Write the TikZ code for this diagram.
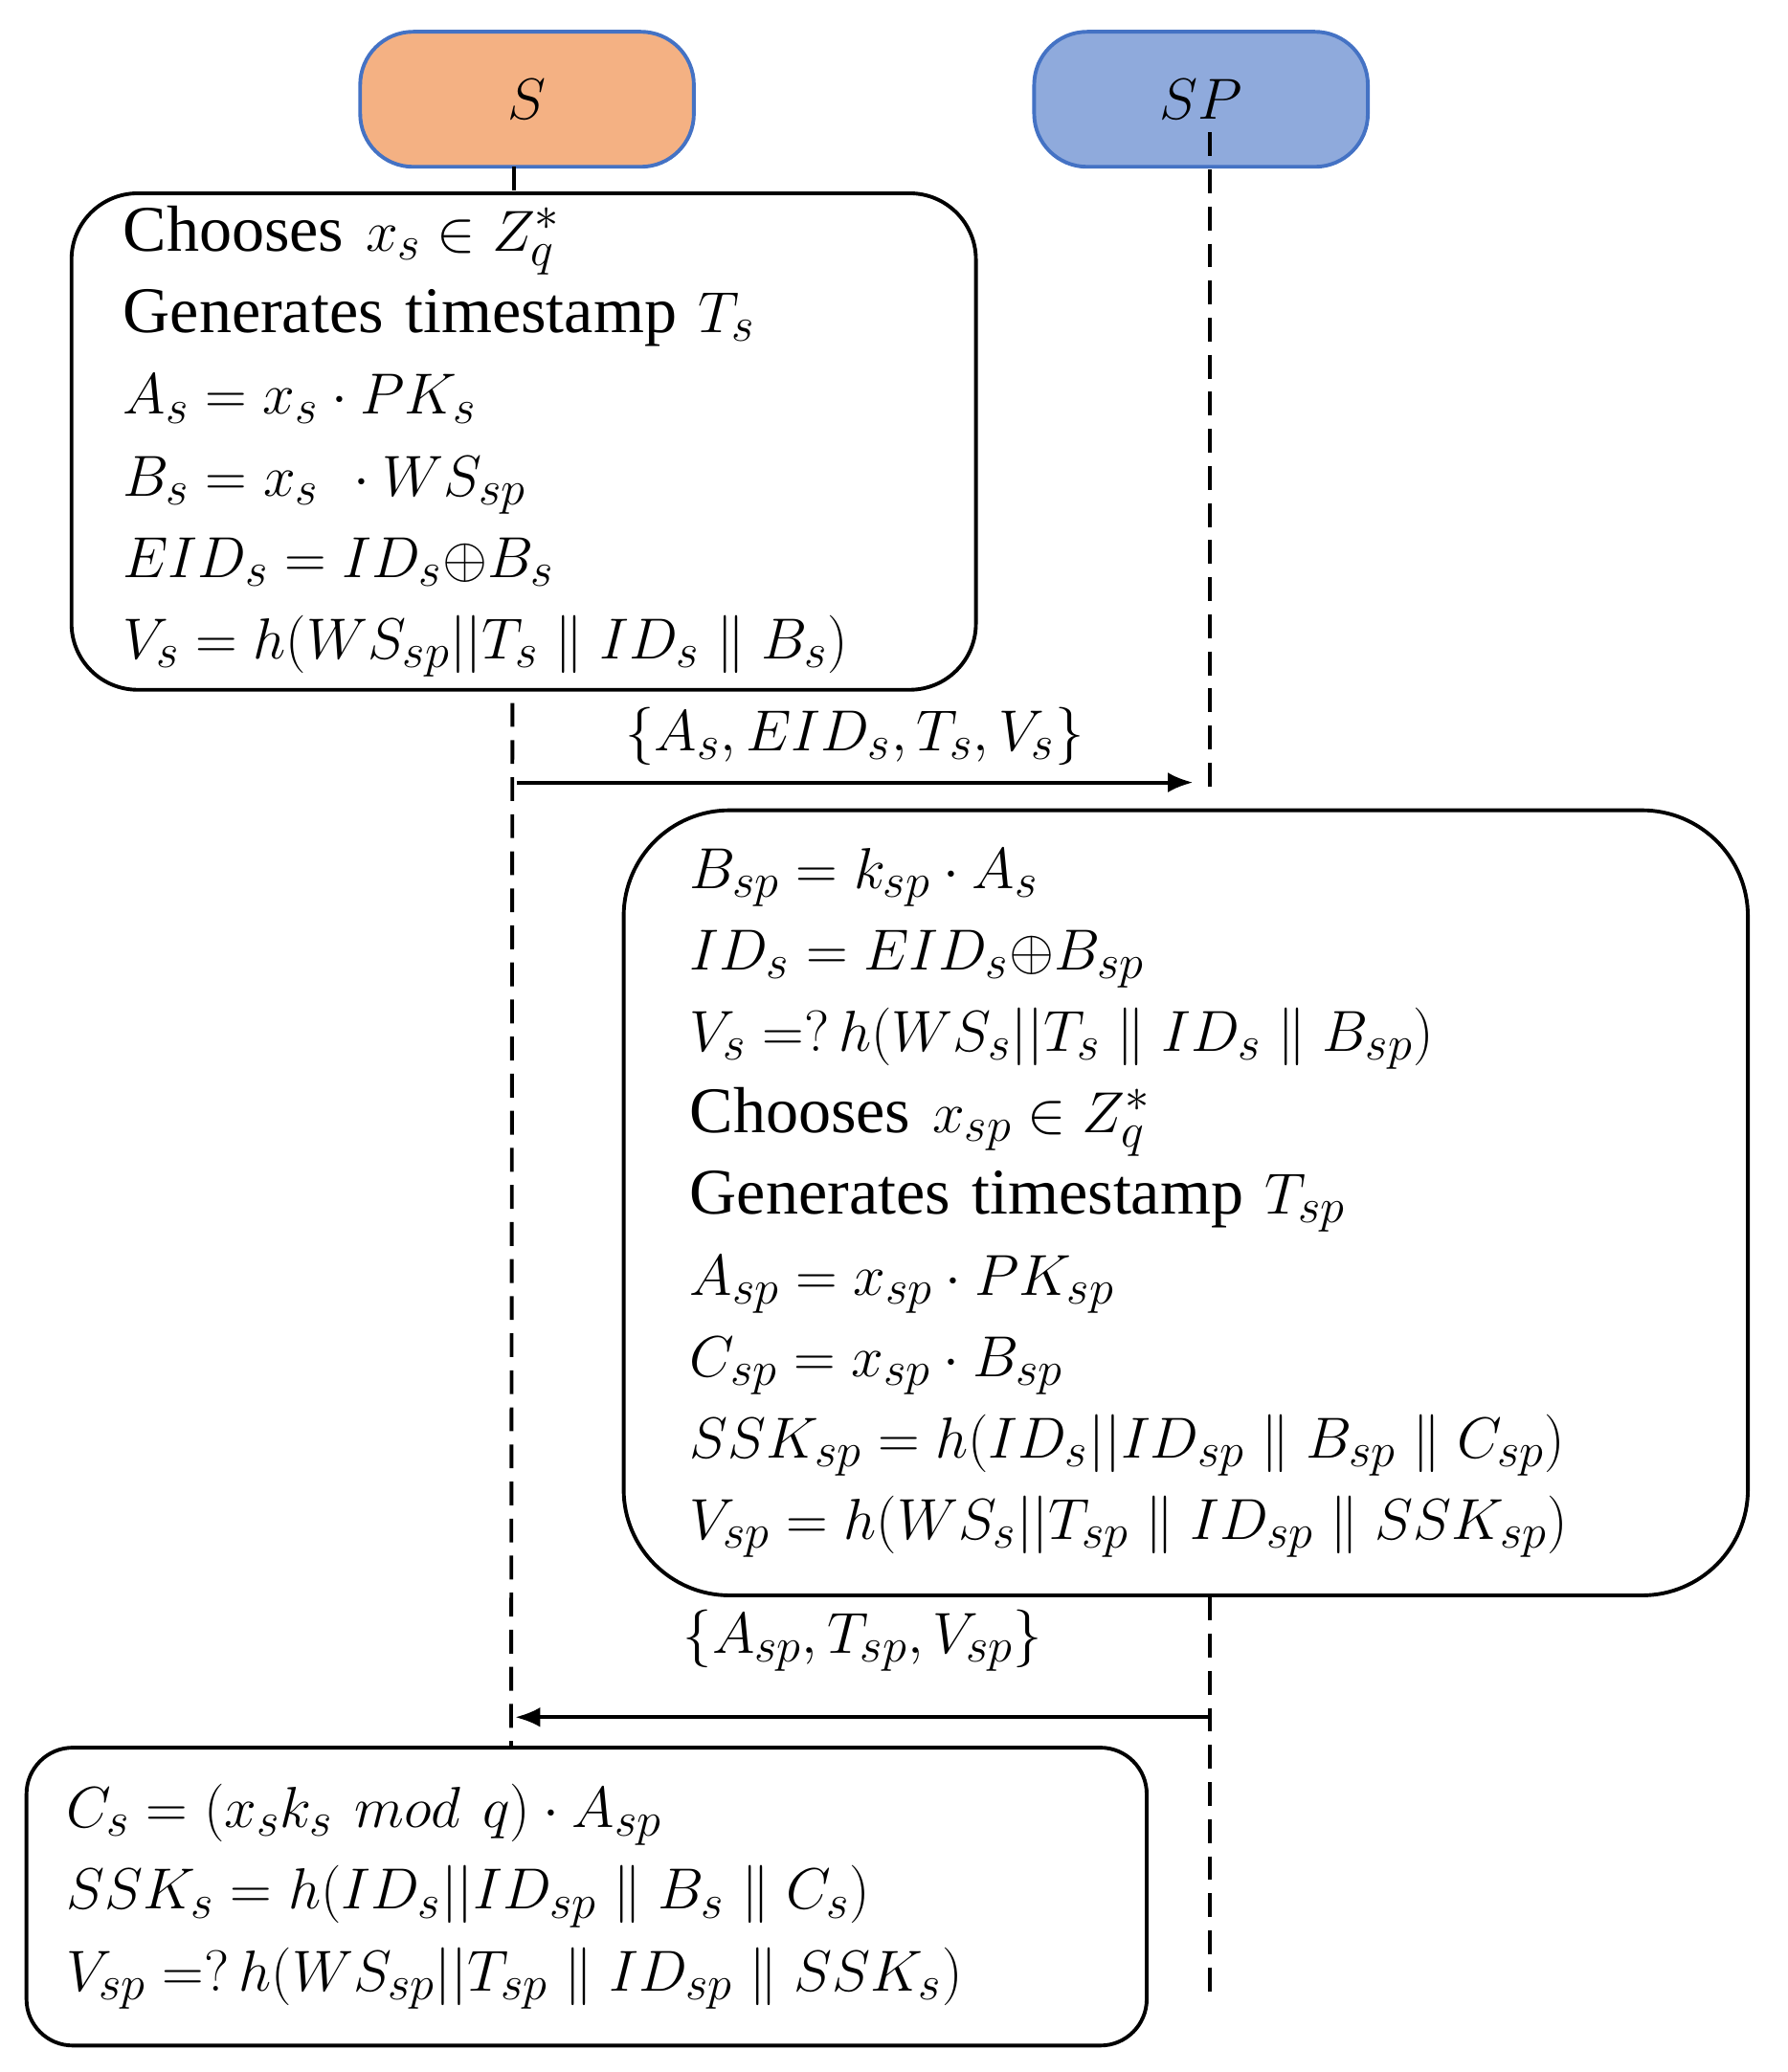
\documentclass[tikz,border=0pt]{standalone}
\usepackage{fontspec}
\setmainfont{Liberation Serif}
\usetikzlibrary{arrows.meta}

\definecolor{sorange}{HTML}{F4B183}
\definecolor{spblue}{HTML}{8FAADC}
\definecolor{edgeblue}{HTML}{4472C4}

\tikzset{
  party/.style={draw=edgeblue, line width=1.6pt, rounded corners=0.8cm,
    minimum width=5.04cm, minimum height=2.04cm, font=\fontsize{30}{36}\selectfont},
  stepbox/.style={draw, line width=1.6pt, align=left, font=\fontsize{28}{35}\selectfont},
  lifeline/.style={line width=1.6pt, dash pattern=on 0.36cm off 0.2cm},
  msg/.style={-{Latex[length=0.38cm,width=0.3cm]}, line width=1.6pt},
  msglabel/.style={font=\fontsize{28}{35}\selectfont},
}

\begin{document}
\begin{tikzpicture}
\useasboundingbox (0,0) rectangle (27,-31.3);

% parties
\node[party, fill=sorange] (s) at (7.96,-1.5) {$S$};
\node[party, fill=spblue] (sp) at (18.14,-1.5) {$SP$};

% computation boxes
\node[stepbox, rounded corners=1cm, minimum width=13.66cm, minimum height=7.5cm,
  text width=12.1cm] (sbox) at (7.91,-6.67) {
Chooses $x_s \in Z_q^*$\\
Generates timestamp $T_s$\\
$A_s = x_s \cdot PK_s$\\
$B_s = x_s\ \cdot WS_{sp}$\\
$EID_s = ID_s{\oplus}B_s$\\
$V_s = h(WS_{sp}||T_s \parallel ID_s \parallel B_s)$};

\node[stepbox, rounded corners=1.6cm, minimum width=16.98cm, minimum height=11.86cm,
  text width=14.98cm] (spbox) at (17.91,-18.17) {
$B_{sp} = k_{sp} \cdot A_s$\\
$ID_s = EID_s{\oplus}B_{sp}$\\
$V_s =?\, h(WS_s||T_s \parallel ID_s \parallel B_{sp})$\\
Chooses $x_{sp} \in Z_q^*$\\
Generates timestamp $T_{sp}$\\
$A_{sp} = x_{sp} \cdot PK_{sp}$\\
$C_{sp} = x_{sp} \cdot B_{sp}$\\
$SSK_{sp} = h(ID_s||ID_{sp} \parallel B_{sp} \parallel C_{sp})$\\
$V_{sp} = h(WS_s||T_{sp} \parallel ID_{sp} \parallel SSK_{sp})$};

\node[stepbox, rounded corners=0.7cm, minimum width=16.92cm, minimum height=4.5cm,
  text width=15.72cm] (sfin) at (8.86,-28.65) {
$C_s = (x_s k_s\ mod\ q) \cdot A_{sp}$\\
$SSK_s = h(ID_s||ID_{sp} \parallel B_s \parallel C_s)$\\
$V_{sp} =?\, h(WS_{sp}||T_{sp} \parallel ID_{sp} \parallel SSK_s)$};

% lifelines
\coordinate (sA) at (7.76,-2.52);
\coordinate (sB) at (7.76,-2.92);
\coordinate (sC) at (7.74,-10.62);
\coordinate (sD) at (7.72,-26.4);
\coordinate (spA) at (18.28,-2.0);
\coordinate (spB) at (18.28,-12.0);
\coordinate (spC) at (18.28,-24.12);
\coordinate (spD) at (18.28,-30.1);
\draw[lifeline] (sA) -- (sB);
\draw[lifeline] (sC) -- (sD);
\draw[lifeline] (spA) -- (spB);
\draw[lifeline] (spC) -- (spD);

% messages
\coordinate (m1a) at (7.8,-11.82);
\coordinate (m1b) at (18.02,-11.82);
\coordinate (m2a) at (18.28,-25.94);
\coordinate (m2b) at (7.78,-25.94);
\draw[msg] (m1a) -- (m1b) node[msglabel, midway, above=0.12cm] (l1) {$\{A_s, EID_s, T_s, V_s\}$};
\draw[msg] (m2a) -- (m2b) node[msglabel, midway, above=0.55cm] (l2) {$\{A_{sp}, T_{sp}, V_{sp}\}$};

\end{tikzpicture}
\end{document}
